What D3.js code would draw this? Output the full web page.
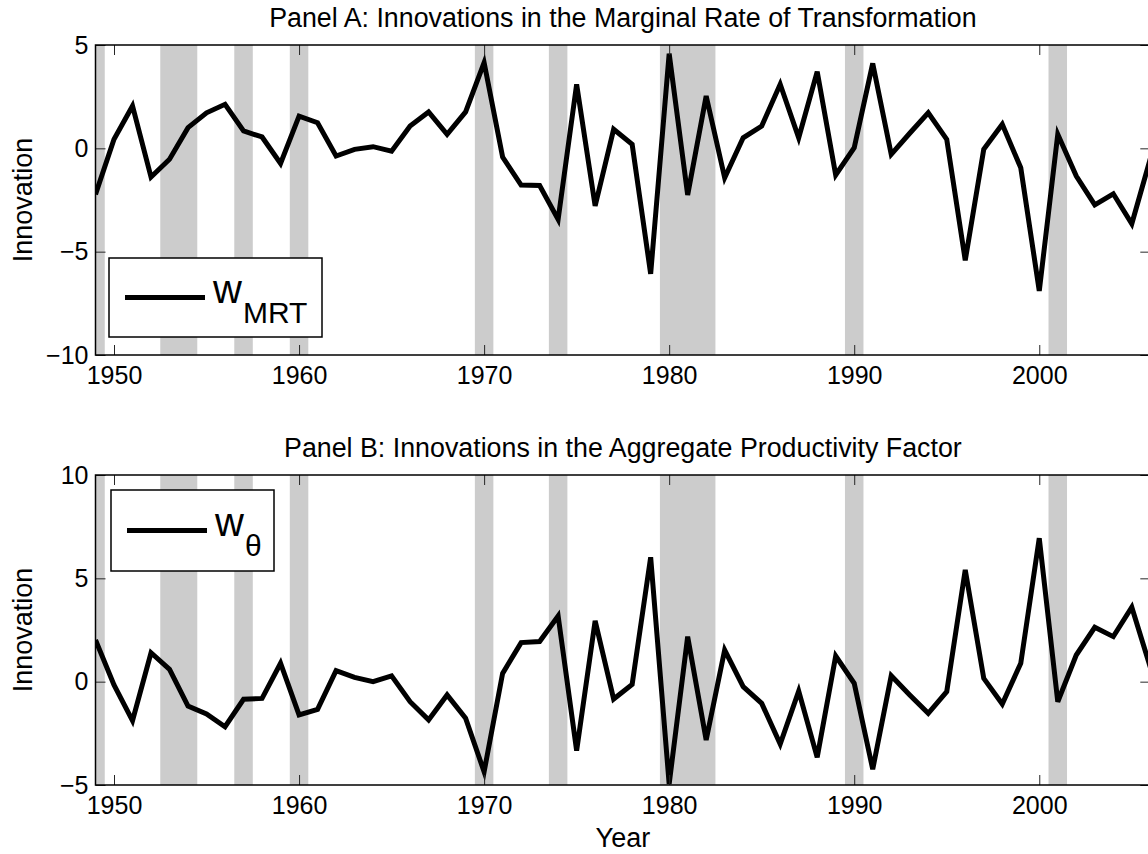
<!DOCTYPE html>
<html>
<head>
<meta charset="utf-8">
<script src="https://cdn.jsdelivr.net/npm/d3@7"></script>
<style>
    body { margin: 0; background: #fff; }
    text { font-family: "Liberation Sans", Arial, sans-serif; fill: #000; }
</style>
</head>
<body>
<div id="chart"></div>
<script>
// annual observations
var years = [1949, 1950, 1951, 1952, 1953, 1954, 1955, 1956, 1957, 1958,
    1959, 1960, 1961, 1962, 1963, 1964, 1965, 1966, 1967, 1968,
    1969, 1970, 1971, 1972, 1973, 1974, 1975, 1976, 1977, 1978,
    1979, 1980, 1981, 1982, 1983, 1984, 1985, 1986, 1987, 1988,
    1989, 1990, 1991, 1992, 1993, 1994, 1995, 1996, 1997, 1998,
    1999, 2000, 2001, 2002, 2003, 2004, 2005, 2006];

var mrtValues = [-2.23, 0.44, 2.05, -1.39, -0.53, 1.0, 1.72, 2.13, 0.84, 0.55,
    -0.73, 1.56, 1.24, -0.37, -0.05, 0.08, -0.14, 1.08, 1.76, 0.68,
    1.76, 4.15, -0.42, -1.78, -1.8, -3.44, 3.1, -2.79, 0.92, 0.19,
    -6.07, 4.58, -2.26, 2.53, -1.42, 0.51, 1.08, 3.1, 0.51, 3.71,
    -1.29, 0.03, 4.11, -0.29, 0.73, 1.72, 0.43, -5.42, -0.05, 1.16,
    -0.94, -6.9, 0.68, -1.34, -2.74, -2.2, -3.65, -0.5];

var thetaValues = [2.02, -0.16, -1.89, 1.4, 0.6, -1.18, -1.56, -2.18, -0.85, -0.81,
    0.89, -1.61, -1.34, 0.53, 0.21, 0.0, 0.28, -0.97, -1.85, -0.64,
    -1.77, -4.36, 0.4, 1.89, 1.94, 3.18, -3.34, 2.94, -0.84, -0.13,
    6.02, -4.95, 2.18, -2.82, 1.53, -0.24, -1.05, -3.02, -0.46, -3.66,
    1.24, -0.08, -4.24, 0.29, -0.64, -1.53, -0.48, 5.41, 0.16, -1.08,
    0.89, 6.94, -0.97, 1.29, 2.63, 2.18, 3.6, 0.7];

// shaded recession periods
var recessionStart = [1948.5, 1952.5, 1956.5, 1959.5, 1969.5, 1973.5, 1979.5, 1989.5, 2000.5];
var recessionEnd = [1949.5, 1954.5, 1957.5, 1960.5, 1970.5, 1974.5, 1982.5, 1990.5, 2001.5];

var xTicks = [1950, 1960, 1970, 1980, 1990, 2000];
var ticksA = [-10, -5, 0, 5];
var ticksB = [-5, 0, 5, 10];

var W = 1148, H = 854;
var left = 95.5, right = 1150.3;
var tickFs = 25, titleFs = 26.8, labelFs = 27;

var svg = d3.select('#chart').append('svg')
    .attr('width', W)
    .attr('height', H);

svg.append('rect').attr('width', W).attr('height', H).attr('fill', '#fff');

var x = d3.scaleLinear().domain([1949, 2006]).range([left, right]);

function drawPanel(opts) {
    var top = opts.top, bottom = opts.bottom;
    var y = d3.scaleLinear().domain(opts.domain).range([bottom, top]);
    var g = svg.append('g');
    var clipId = 'clip-' + opts.id;

    g.append('clipPath').attr('id', clipId)
        .append('rect')
        .attr('x', left).attr('y', top)
        .attr('width', right - left).attr('height', bottom - top);

    var plot = g.append('g').attr('clip-path', 'url(#' + clipId + ')');

    plot.selectAll('rect.rec')
        .data(recessionStart)
        .enter().append('rect')
        .attr('class', 'rec')
        .attr('x', function (d) { return x(d); })
        .attr('y', top)
        .attr('width', function (d, i) { return x(recessionEnd[i]) - x(d); })
        .attr('height', bottom - top)
        .attr('fill', '#cccccc');

    var line = d3.line()
        .x(function (d, i) { return x(years[i]); })
        .y(function (d) { return y(d); });

    plot.append('path')
        .datum(opts.values)
        .attr('d', line)
        .attr('fill', 'none')
        .attr('stroke', '#000')
        .attr('stroke-width', 5)
        .attr('stroke-linejoin', 'miter');

    // axes with inward ticks on all four sides
    var fmt = d3.format('d');
    var axB = g.append('g').attr('transform', 'translate(0,' + bottom + ')')
        .call(d3.axisBottom(x).tickValues(xTicks).tickFormat(fmt)
            .tickSizeInner(-10).tickSizeOuter(0).tickPadding(11));
    var axT = g.append('g').attr('transform', 'translate(0,' + top + ')')
        .call(d3.axisTop(x).tickValues(xTicks).tickFormat('')
            .tickSizeInner(-10).tickSizeOuter(0));
    var axL = g.append('g').attr('transform', 'translate(' + left + ',0)')
        .call(d3.axisLeft(y).tickValues(opts.ticks)
            .tickSizeInner(-10).tickSizeOuter(0).tickPadding(7));
    var axR = g.append('g').attr('transform', 'translate(' + right + ',0)')
        .call(d3.axisRight(y).tickValues(opts.ticks).tickFormat('')
            .tickSizeInner(-10).tickSizeOuter(0));

    [axB, axT, axL, axR].forEach(function (a) {
        a.select('.domain').remove();
        a.selectAll('.tick line').attr('stroke', '#262626').attr('stroke-width', 1);
        a.selectAll('.tick text')
            .style('font-family', '"Liberation Sans", Arial, sans-serif')
            .style('font-size', tickFs + 'px')
            .attr('fill', '#000');
    });

    g.append('rect')
        .attr('x', left).attr('y', top)
        .attr('width', right - left).attr('height', bottom - top)
        .attr('fill', 'none')
        .attr('stroke', '#000')
        .attr('stroke-width', 1.5);

    g.append('text')
        .attr('x', (left + right) / 2)
        .attr('y', top - 18)
        .attr('text-anchor', 'middle')
        .style('font-size', titleFs + 'px')
        .text(opts.title);

    g.append('text')
        .attr('transform', 'translate(32,' + ((top + bottom) / 2) + ') rotate(-90)')
        .attr('text-anchor', 'middle')
        .style('font-size', labelFs + 'px')
        .text('Innovation');

    // legend
    var lg = opts.legend;
    g.append('rect')
        .attr('x', lg.x).attr('y', lg.y)
        .attr('width', lg.w).attr('height', lg.h)
        .attr('fill', '#fff')
        .attr('stroke', '#000')
        .attr('stroke-width', 1.5);
    g.append('line')
        .attr('x1', lg.x + 16).attr('x2', lg.x + 96)
        .attr('y1', lg.y + lg.h / 2).attr('y2', lg.y + lg.h / 2)
        .attr('stroke', '#000')
        .attr('stroke-width', 5);
    var t = g.append('text')
        .attr('x', lg.x + 104)
        .attr('y', lg.y + lg.h / 2 + 5)
        .style('font-size', '40px');
    t.append('tspan').text('w');
    t.append('tspan')
        .attr('dy', 20)
        .attr('dx', 1)
        .style('font-size', '30px')
        .text(lg.sub);
}

drawPanel({
    id: 'a', top: 45, bottom: 355, domain: [-10, 5], ticks: ticksA,
    values: mrtValues,
    title: 'Panel A: Innovations in the Marginal Rate of Transformation',
    legend: { x: 109, y: 258, w: 213, h: 79, sub: 'MRT' }
});

drawPanel({
    id: 'b', top: 475, bottom: 785, domain: [-5, 10], ticks: ticksB,
    values: thetaValues,
    title: 'Panel B: Innovations in the Aggregate Productivity Factor',
    legend: { x: 111, y: 490, w: 163, h: 81, sub: 'θ' }
});

svg.append('text')
    .attr('x', (left + right) / 2)
    .attr('y', 847)
    .attr('text-anchor', 'middle')
    .style('font-size', labelFs + 'px')
    .text('Year');
</script>
</body>
</html>
